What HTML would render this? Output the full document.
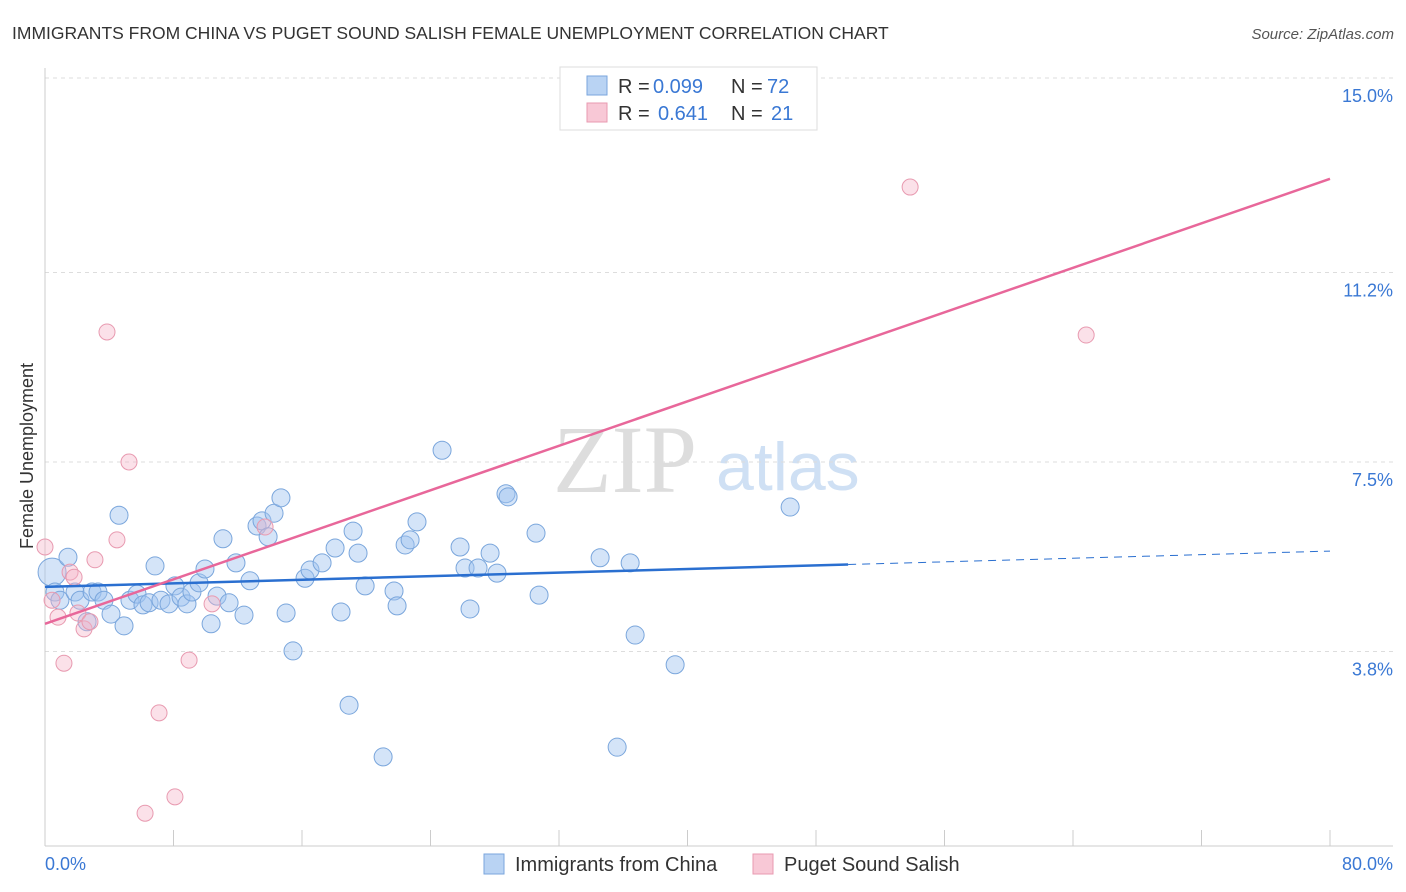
<!DOCTYPE html>
<html><head><meta charset="utf-8"><style>
body{margin:0;background:#fff;font-family:"Liberation Sans",sans-serif;}
svg{display:block}
</style></head><body>
<svg id="chart" width="1406" height="892" xmlns="http://www.w3.org/2000/svg" font-family="Liberation Sans, sans-serif">
<text x="12" y="39" font-size="17.5" fill="#333">IMMIGRANTS FROM CHINA VS PUGET SOUND SALISH FEMALE UNEMPLOYMENT CORRELATION CHART</text>
<text x="1394" y="39" font-size="15" fill="#555" text-anchor="end" font-style="italic">Source: ZipAtlas.com</text>
<text x="553" y="492" font-size="96" fill="#ddd" font-family="Liberation Serif, serif">ZIP</text>
<text x="716" y="490" font-size="68" fill="#cfe0f4">atlas</text>
<text transform="translate(33,456) rotate(-90)" font-size="18" fill="#333" text-anchor="middle">Female Unemployment</text>
<g id="grid"></g><g id="axes"></g><g id="marks"></g>
<g>
<rect x="560" y="67" width="257" height="63" fill="#fff" stroke="#ddd"/>
<rect x="587" y="76" width="20" height="19" fill="#b9d3f3" stroke="#7aa6dc"/>
<rect x="587" y="103" width="20" height="19" fill="#f8c8d6" stroke="#e89ab0"/>
<text x="618" y="93" font-size="20" fill="#333">R =</text>
<text x="653" y="93" font-size="20" fill="#3a78d4">0.099</text>
<text x="731" y="93" font-size="20" fill="#333">N =</text>
<text x="767" y="93" font-size="20" fill="#3a78d4">72</text>
<text x="618" y="120" font-size="20" fill="#333">R =</text>
<text x="658" y="120" font-size="20" fill="#3a78d4">0.641</text>
<text x="731" y="120" font-size="20" fill="#333">N =</text>
<text x="771" y="120" font-size="20" fill="#3a78d4">21</text>
</g>
<g>
<rect x="484" y="854" width="20" height="20" fill="#b9d3f3" stroke="#7aa6dc"/>
<text x="515" y="871" font-size="20" fill="#333">Immigrants from China</text>
<rect x="753" y="854" width="20" height="20" fill="#f8c8d6" stroke="#e89ab0"/>
<text x="784" y="871" font-size="20" fill="#333">Puget Sound Salish</text>
</g>
</svg>
<script>
const yTicks=[15.0,11.2,7.5,3.8];
const yTickLabels=["15.0%","11.2%","7.5%","3.8%"];
const xTicks=[0,8,16,24,32,40,48,56,64,72,80];
const blueX=[0.44,0.62,0.93,1.43,1.87,2.18,2.62,2.93,3.30,3.67,4.11,4.61,4.92,5.29,5.73,6.10,6.48,6.85,7.22,7.72,8.09,8.47,8.84,9.15,9.59,9.96,10.34,10.71,11.08,11.46,11.89,12.39,12.76,13.20,13.51,13.89,14.26,14.69,15.01,15.44,16.19,16.50,17.25,18.06,18.43,18.93,19.18,19.49,19.93,21.05,21.73,21.92,22.42,22.73,23.16,24.72,25.84,26.15,26.46,26.96,27.71,28.14,28.70,28.83,30.57,30.76,34.56,35.62,36.43,36.74,39.23,46.39];
const blueY=[5.35,4.96,4.80,5.64,4.96,4.80,4.38,4.96,4.96,4.80,4.53,6.46,4.30,4.80,4.92,4.71,4.75,5.47,4.80,4.73,5.08,4.86,4.73,4.96,5.14,5.41,4.34,4.88,6.00,4.75,5.53,4.51,5.18,6.25,6.35,6.04,6.50,6.80,4.55,3.81,5.23,5.39,5.53,5.82,4.57,2.75,6.15,5.72,5.08,1.74,4.98,4.69,5.88,5.98,6.33,7.73,5.84,5.43,4.63,5.43,5.72,5.33,6.88,6.82,6.11,4.90,5.63,1.93,5.53,4.12,3.54,6.62];
const pinkX=[0.0,0.44,0.81,1.18,1.56,1.81,2.05,2.43,2.80,3.11,3.86,4.48,5.23,6.23,7.10,8.09,8.97,10.40,13.70,53.86,64.82];
const pinkY=[5.84,4.80,4.47,3.57,5.35,5.25,4.55,4.24,4.38,5.59,10.04,5.98,7.50,0.64,2.60,0.96,3.63,4.73,6.23,12.87,9.98];
const blueTrend=[5.06,5.76], blueSolidEnd=50;
const pinkTrend=[4.34,13.03];
const NS="http://www.w3.org/2000/svg";
const sx=v=>45+v*(1330-45)/80;
const sy=v=>846-v*51.2;
function mk(tag,attrs,parent){const e=document.createElementNS(NS,tag);for(const k in attrs)e.setAttribute(k,attrs[k]);parent.appendChild(e);return e;}
const grid=document.getElementById('grid'),axes=document.getElementById('axes'),marks=document.getElementById('marks');
yTicks.forEach((t,i)=>{
 const l=mk('line',{x1:45,x2:1393,y1:sy(t),y2:sy(t),stroke:'#ddd','stroke-dasharray':'4,4'},grid);
 
 
 const tx=mk('text',{x:1393,y:sy(t)+24,'font-size':18,fill:'#3a78d4','text-anchor':'end'},axes);
 tx.textContent=yTickLabels[i];
 
 
});
const ya=mk('line',{x1:45,x2:45,y1:68,y2:846,stroke:'#ccc'},axes);


const xa=mk('line',{x1:45,x2:1393,y1:846,y2:846,stroke:'#ccc'},axes);


xTicks.forEach(t=>{
 const l=mk('line',{x1:sx(t),x2:sx(t),y1:830,y2:846,stroke:'#ccc'},axes);
 
 
});
const xl0=mk('text',{x:45,y:870,'font-size':18,fill:'#3a78d4'},axes);xl0.textContent='0.0%';


const xl1=mk('text',{x:1393,y:870,'font-size':18,fill:'#3a78d4','text-anchor':'end'},axes);xl1.textContent='80.0%';


blueX.forEach((x,i)=>{
 const c=mk('circle',{cx:sx(x),cy:sy(blueY[i]),r:i===0?14:9,fill:'rgba(160,196,240,0.45)',stroke:'#7aa6dc','stroke-width':1},marks);
 
 
});
pinkX.forEach((x,i)=>{
 const c=mk('circle',{cx:sx(x),cy:sy(pinkY[i]),r:8,fill:'rgba(245,180,200,0.4)',stroke:'#e89ab0','stroke-width':1},marks);
 
 
});
const by=x=>blueTrend[0]+(blueTrend[1]-blueTrend[0])*x/80;
const b1=mk('line',{x1:sx(0),y1:sy(by(0)),x2:sx(blueSolidEnd),y2:sy(by(blueSolidEnd)),stroke:'#2a6fd0','stroke-width':2.5},marks);


const b2=mk('line',{x1:sx(blueSolidEnd),y1:sy(by(blueSolidEnd)),x2:sx(80),y2:sy(by(80)),stroke:'#2a6fd0','stroke-width':1,'stroke-dasharray':'8,6'},marks);


const p1=mk('line',{x1:sx(0),y1:sy(pinkTrend[0]),x2:sx(80),y2:sy(pinkTrend[1]),stroke:'#e8679a','stroke-width':2.5},marks);


</script>
</body></html>
